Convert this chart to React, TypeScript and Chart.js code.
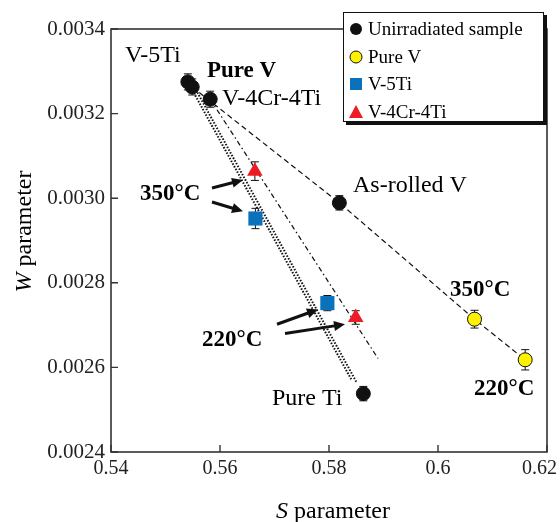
import React, { useEffect, useRef } from "react";
import { Chart, registerables } from "chart.js";

Chart.register(...registerables);

// ---- data ----
const unirrNames = ["V-5Ti", "Pure V", "V-4Cr-4Ti", "As-rolled V", "Pure Ti"];
const unirrS = [0.5541, 0.5549, 0.5582, 0.5819, 0.5863];
const unirrW = [0.003275, 0.003263, 0.003234, 0.002989, 0.002538];
const unirrErr = [0.000019, 0.000019, 0.000019, 0.000017, 0.000017];

const pureVS = [0.6067, 0.616];
const pureVW = [0.002714, 0.002618];
const pureVErr = [0.000021, 0.000024];

const v5TiS = [0.5665, 0.5797];
const v5TiW = [0.002952, 0.002752];
const v5TiErr = [0.000024, 0.000018];

const v4Cr4TiS = [0.5664, 0.5849];
const v4Cr4TiW = [0.003064, 0.002718];
const v4Cr4TiErr = [0.000022, 0.000016];

// guide lines
const dottedAS = [0.5541, 0.5842];
const dottedAW = [0.003275, 0.002569];
const dottedBS = [0.5553, 0.58505];
const dottedBW = [0.003263, 0.002565];
const dashDotS = [0.5582, 0.589];
const dashDotW = [0.003234, 0.002621];
const dashedS = [0.5549, 0.5819, 0.6067, 0.616];
const dashedW = [0.003263, 0.002989, 0.002714, 0.002618];

// ticks
const xTicks = [0.54, 0.56, 0.58, 0.6, 0.62];
const xTickLabels = ["0.54", "0.56", "0.58", "0.6", "0.62"];
const yTicks = [0.0024, 0.0026, 0.0028, 0.003, 0.0032, 0.0034];
const yTickLabels = ["0.0024", "0.0026", "0.0028", "0.0030", "0.0032", "0.0034"];

// annotations: text, S, W, bold
const noteTexts = ["V-5Ti", "Pure V", "V-4Cr-4Ti", "350°C", "As-rolled V", "350°C", "220°C", "220°C", "Pure Ti"];
const noteS = [0.54257, 0.55761, 0.56037, 0.54532, 0.5844, 0.6022, 0.5567, 0.60661, 0.56954];
const noteW = [0.0033385, 0.003303, 0.003237, 0.003012, 0.003031, 0.002785, 0.002666, 0.00255, 0.002529];
const noteBold = [false, true, false, true, false, true, true, true, false];

// arrows: start S,W -> tip S,W
const arrowFromS = [0.55853, 0.55853, 0.57046, 0.57193];
const arrowFromW = [0.003024, 0.002991, 0.002702, 0.00268];
const arrowToS = [0.56422, 0.56422, 0.57798, 0.58294];
const arrowToW = [0.003043, 0.002969, 0.002737, 0.002702];

const legendLabels = ["Unirradiated sample", "Pure V", "V-5Ti", "V-4Cr-4Ti"];

const SERIF = "'Liberation Serif', 'Times New Roman', serif";
const INK = "#000";

const pts = (xs: number[], ys: number[]) => xs.map((x, i) => ({ x, y: ys[i] }));

const errorSets = [
  { s: unirrS, w: unirrW, e: unirrErr },
  { s: pureVS, w: pureVW, e: pureVErr },
  { s: v5TiS, w: v5TiW, e: v5TiErr },
  { s: v4Cr4TiS, w: v4Cr4TiW, e: v4Cr4TiErr },
];

const overlay = {
  id: "overlay",
  beforeDatasetsDraw(chart: any) {
    const { ctx, chartArea: a, scales } = chart;
    const xs = scales.x, ys = scales.y;
    ctx.save();
    // frame
    ctx.strokeStyle = "#333";
    ctx.lineWidth = 1.6;
    ctx.strokeRect(a.left, a.top, a.right - a.left, a.bottom - a.top);
    // inward ticks
    ctx.lineWidth = 1.4;
    ctx.beginPath();
    xTicks.forEach((v) => {
      const px = xs.getPixelForValue(v);
      ctx.moveTo(px, a.bottom);
      ctx.lineTo(px, a.bottom - 7);
    });
    yTicks.forEach((v) => {
      const py = ys.getPixelForValue(v);
      ctx.moveTo(a.left, py);
      ctx.lineTo(a.left + 7, py);
    });
    ctx.stroke();
    // error bars
    ctx.strokeStyle = "#111";
    ctx.lineWidth = 1;
    errorSets.forEach((set) => {
      set.s.forEach((sv, i) => {
        const px = xs.getPixelForValue(sv);
        const p1 = ys.getPixelForValue(set.w[i] + set.e[i]);
        const p2 = ys.getPixelForValue(set.w[i] - set.e[i]);
        ctx.beginPath();
        ctx.moveTo(px, p1);
        ctx.lineTo(px, p2);
        ctx.moveTo(px - 4, p1);
        ctx.lineTo(px + 4, p1);
        ctx.moveTo(px - 4, p2);
        ctx.lineTo(px + 4, p2);
        ctx.stroke();
      });
    });
    ctx.restore();
  },
  afterDraw(chart: any) {
    const { ctx, chartArea: a, scales, width, height } = chart;
    const xs = scales.x, ys = scales.y;
    ctx.save();
    // x tick labels
    ctx.fillStyle = "#222";
    ctx.font = `20px ${SERIF}`;
    ctx.textBaseline = "middle";
    ctx.textAlign = "center";
    xTicks.forEach((v, i) => {
      let px = xs.getPixelForValue(v);
      const w = ctx.measureText(xTickLabels[i]).width;
      if (px + w / 2 > width - 3) px = width - 3 - w / 2;
      ctx.fillText(xTickLabels[i], px, a.bottom + 17);
    });

    // annotations
    ctx.fillStyle = INK;
    ctx.textAlign = "left";
    noteTexts.forEach((t, i) => {
      ctx.font = noteBold[i] ? `bold 23px ${SERIF}` : `24px ${SERIF}`;
      ctx.fillText(t, xs.getPixelForValue(noteS[i]), ys.getPixelForValue(noteW[i]) + 1);
    });

    // arrows
    ctx.strokeStyle = "#111";
    ctx.fillStyle = "#111";
    arrowFromS.forEach((s0, i) => {
      const x0 = xs.getPixelForValue(s0), y0 = ys.getPixelForValue(arrowFromW[i]);
      const x1 = xs.getPixelForValue(arrowToS[i]), y1 = ys.getPixelForValue(arrowToW[i]);
      const ang = Math.atan2(y1 - y0, x1 - x0);
      const hl = 11, hw = 5;
      const bx = x1 - Math.cos(ang) * hl, by = y1 - Math.sin(ang) * hl;
      ctx.lineWidth = 3;
      ctx.beginPath();
      ctx.moveTo(x0, y0);
      ctx.lineTo(bx + Math.cos(ang) * 2, by + Math.sin(ang) * 2);
      ctx.stroke();
      ctx.beginPath();
      ctx.moveTo(x1, y1);
      ctx.lineTo(bx - Math.sin(ang) * hw, by + Math.cos(ang) * hw);
      ctx.lineTo(bx + Math.sin(ang) * hw, by - Math.cos(ang) * hw);
      ctx.closePath();
      ctx.fill();
    });

    // legend
    const lw = 201, lh = 110;
    const lx = a.right - 204, ly = a.top - 17;
    ctx.fillStyle = "#111";
    ctx.fillRect(lx + 3, ly + 3, lw, lh);
    ctx.fillStyle = "#fff";
    ctx.fillRect(lx, ly, lw, lh);
    ctx.strokeStyle = "#111";
    ctx.lineWidth = 1;
    ctx.strokeRect(lx + 0.5, ly + 0.5, lw - 1, lh - 1);
    const rowY = [17, 45, 72, 100];
    legendLabels.forEach((lab, i) => {
      const cx = lx + 13, cy = ly + rowY[i];
      ctx.beginPath();
      if (i === 0) {
        ctx.fillStyle = "#111";
        ctx.arc(cx, cy, 6, 0, Math.PI * 2);
        ctx.fill();
      } else if (i === 1) {
        ctx.fillStyle = "#FFF200";
        ctx.strokeStyle = "#111";
        ctx.arc(cx, cy, 6, 0, Math.PI * 2);
        ctx.fill();
        ctx.stroke();
      } else if (i === 2) {
        ctx.fillStyle = "#0A72BC";
        ctx.fillRect(cx - 6, cy - 6, 12, 12);
      } else {
        ctx.fillStyle = "#ED1C24";
        ctx.moveTo(cx, cy - 7);
        ctx.lineTo(cx + 7, cy + 6);
        ctx.lineTo(cx - 7, cy + 6);
        ctx.closePath();
        ctx.fill();
      }
      ctx.fillStyle = INK;
      ctx.font = `19px ${SERIF}`;
      ctx.textAlign = "left";
      ctx.textBaseline = "middle";
      ctx.fillText(lab, lx + 25, cy + 1);
    });

    // axis titles
    ctx.fillStyle = INK;
    ctx.textBaseline = "alphabetic";
    ctx.font = `italic 24px ${SERIF}`;
    const sW = ctx.measureText("S").width;
    ctx.font = `24px ${SERIF}`;
    const restW = ctx.measureText(" parameter").width;
    const tx = (a.left + a.right) / 2 + 4 - (sW + restW) / 2;
    ctx.font = `italic 24px ${SERIF}`;
    ctx.fillText("S", tx, height - 4);
    ctx.font = `24px ${SERIF}`;
    ctx.fillText(" parameter", tx + sW, height - 4);

    ctx.save();
    ctx.translate(31, (a.top + a.bottom) / 2 - 9);
    ctx.rotate(-Math.PI / 2);
    ctx.font = `italic 24px ${SERIF}`;
    const wW = ctx.measureText("W").width;
    ctx.font = `24px ${SERIF}`;
    const rW = ctx.measureText(" parameter").width;
    ctx.font = `italic 24px ${SERIF}`;
    ctx.fillText("W", -(wW + rW) / 2, 0);
    ctx.font = `24px ${SERIF}`;
    ctx.fillText(" parameter", -(wW + rW) / 2 + wW, 0);
    ctx.restore();

    ctx.restore();
  },
};

export default function App() {
  const ref = useRef<HTMLCanvasElement | null>(null);
  useEffect(() => {
    document.body.style.margin = "0";
    const lineBase = {
      showLine: true,
      pointRadius: 0,
      pointHoverRadius: 0,
      borderColor: "#111",
      fill: false,
      order: 2,
    };
    const chart = new Chart(ref.current as HTMLCanvasElement, {
      type: "scatter",
      data: {
        datasets: [
          {
            label: "Unirradiated sample",
            data: pts(unirrS, unirrW),
            pointStyle: "circle",
            pointRadius: 7,
            backgroundColor: "#111",
            borderColor: "#111",
            borderWidth: 1,
            order: 0,
          },
          {
            label: "Pure V",
            data: pts(pureVS, pureVW),
            pointStyle: "circle",
            pointRadius: 7,
            backgroundColor: "#FFF200",
            borderColor: "#111",
            borderWidth: 1,
            order: 0,
          },
          {
            label: "V-5Ti",
            data: pts(v5TiS, v5TiW),
            pointStyle: "rect",
            pointRadius: 10,
            backgroundColor: "#0A72BC",
            borderColor: "#0A72BC",
            borderWidth: 0,
            order: 0,
          },
          {
            label: "V-4Cr-4Ti",
            data: pts(v4Cr4TiS, v4Cr4TiW),
            pointStyle: "triangle",
            pointRadius: 9,
            backgroundColor: "#ED1C24",
            borderColor: "#ED1C24",
            borderWidth: 0,
            order: 0,
          },
          { ...lineBase, label: "dotA", data: pts(dottedAS, dottedAW), borderWidth: 2, borderDash: [1.5, 1.6] },
          { ...lineBase, label: "dotB", data: pts(dottedBS, dottedBW), borderWidth: 2, borderDash: [1.5, 1.6] },
          { ...lineBase, label: "dashdot", data: pts(dashDotS, dashDotW), borderWidth: 1.2, borderDash: [5, 3, 1.5, 3] },
          { ...lineBase, label: "dashed", data: pts(dashedS, dashedW), borderWidth: 1.2, borderDash: [5.5, 3.5] },
        ] as any,
      },
      options: {
        animation: false,
        responsive: false,
        devicePixelRatio: 1,
        layout: { padding: { top: 29, right: 13, left: 0, bottom: 0 } },
        plugins: { legend: { display: false }, tooltip: { enabled: false } },
        events: [],
        scales: {
          x: {
            type: "linear",
            min: 0.54,
            max: 0.62,
            afterBuildTicks: (s: any) => {
              s.ticks = xTicks.map((v) => ({ value: v }));
            },
            afterFit: (s: any) => {
              s.height = 70;
              s.paddingLeft = 0;
              s.paddingRight = 0;
            },
            ticks: { display: false },
            grid: { display: false, drawTicks: false },
            border: { display: false },
          },
          y: {
            type: "linear",
            min: 0.0024,
            max: 0.0034,
            afterBuildTicks: (s: any) => {
              s.ticks = yTicks.map((v) => ({ value: v }));
            },
            afterFit: (s: any) => {
              s.width = 111;
              s.paddingTop = 0;
              s.paddingBottom = 0;
            },
            ticks: {
              callback: (_v: any, i: number) => yTickLabels[i],
              font: { family: SERIF, size: 21 },
              color: "#222",
              padding: 6,
            },
            grid: { display: false, drawTicks: false },
            border: { display: false },
          },
        },
      } as any,
      plugins: [overlay],
    });
    return () => chart.destroy();
  }, []);
  return <canvas ref={ref} width={560} height={522} style={{ display: "block" }} />;
}
